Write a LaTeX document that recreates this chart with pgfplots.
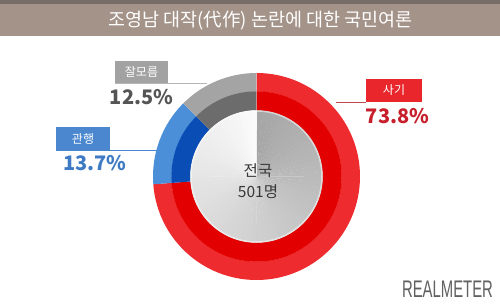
\documentclass[border=0pt]{standalone}
\usepackage{fontspec}
\setmainfont{Noto Sans CJK KR}
\newfontfamily\logofont{Liberation Sans}
\usepackage{pgfplots}
\usepackage{pgfplotstable}
\pgfplotsset{compat=1.18}

\definecolor{titlebar}{HTML}{A49389}
\definecolor{titletop}{HTML}{776C67}
\definecolor{redO}{HTML}{EE2B2E}
\definecolor{redI}{HTML}{E30000}
\definecolor{blueO}{HTML}{4A8FD8}
\definecolor{blueI}{HTML}{0A4DB4}
\definecolor{grayO}{HTML}{A4A4A4}
\definecolor{grayI}{HTML}{6C6C6C}
\definecolor{redtxt}{HTML}{C71F2B}
\definecolor{bluetxt}{HTML}{3F7BC4}
\definecolor{graytxt}{HTML}{555555}
\definecolor{redbox}{HTML}{E8262C}
\definecolor{bluebox}{HTML}{4A87CF}
\definecolor{graybox}{HTML}{A2A2A2}

\pgfplotstableread{
name value
fraud 73.8
custom 13.7
unknown 12.5
}\poll

\newcommand\seg[5]{%
  \fill[#1] ([shift={(#2:#4pt)}]axis cs:256.5,129.5)
    arc[start angle=#2,end angle=#3,radius=#4pt]
    -- ([shift={(#3:#5pt)}]axis cs:256.5,129.5)
    arc[start angle=#3,end angle=#2,radius=#5pt] -- cycle;}

\begin{document}%
\begin{tikzpicture}
\pgfplotstablegetelem{0}{value}\of\poll \let\va\pgfplotsretval
\pgfplotstablegetelem{1}{value}\of\poll \let\vb\pgfplotsretval
\pgfplotstablegetelem{2}{value}\of\poll \let\vc\pgfplotsretval
\pgfmathsetmacro\tot{\va+\vb+\vc}
\pgfmathsetmacro\aA{90}
\pgfmathsetmacro\aB{90-\va/\tot*360}
\pgfmathsetmacro\aC{\aB-\vb/\tot*360}
\pgfmathsetmacro\aD{\aC-\vc/\tot*360}
\begin{axis}[x=1pt,y=1pt,xmin=0,xmax=500,ymin=0,ymax=306,hide axis,clip=false]
  % background
  \fill[white] (axis cs:0,0) rectangle (axis cs:500,306);
  \coordinate (O) at (axis cs:0,0);
  \fill[titlebar] (axis cs:0,270) rectangle (axis cs:500,302);
  \fill[titletop] (axis cs:0,302) rectangle (axis cs:500,306);
  \node[text=white,font=\fontsize{18.5}{20}\selectfont] at (axis cs:260.5,285.5) {조영남 대작(代作) 논란에 대한 국민여론};
  % donut from data
  \seg{redO}{\aA}{\aB}{103.5}{85}
  \seg{blueO}{\aB}{\aC}{103.5}{85}
  \seg{grayO}{\aC}{\aD}{103.5}{85}
  \seg{redI}{\aA}{\aB}{85.2}{66}
  \seg{blueI}{\aB}{\aC}{85.2}{66}
  \seg{grayI}{\aC}{\aD}{85.2}{66}
  % label: unknown
  \draw[graybox!80!white,line width=0.8pt] (axis cs:115,223) -- (axis cs:207,223);
  \fill[graybox] (axis cs:115,223) rectangle (axis cs:168,245);
  \node[text=white,font=\fontsize{12}{13}\selectfont] at (axis cs:141.5,234) {잘모름};
  \node[text=graytxt,font=\bfseries\fontsize{20}{24}\selectfont] at (axis cs:141.5,208.5) {12.5\%};
  % label: custom
  \draw[bluebox,line width=0.8pt] (axis cs:56,156) -- (axis cs:157,156);
  \fill[bluebox] (axis cs:56,156) rectangle (axis cs:110,179);
  \node[text=white,font=\fontsize{12}{13}\selectfont] at (axis cs:83,167.5) {관행};
  \node[text=bluetxt,font=\bfseries\fontsize{20}{24}\selectfont] at (axis cs:95,142.5) {13.7\%};
  % label: fraud
  \draw[redbox!60!gray,line width=0.8pt] (axis cs:336,204) -- (axis cs:366,204);
  \fill[redbox] (axis cs:366,204) rectangle (axis cs:422,227);
  \node[text=white,font=\fontsize{12}{13}\selectfont] at (axis cs:394,215.5) {사기};
  \node[text=redtxt,font=\bfseries\fontsize{20}{24}\selectfont] at (axis cs:397.5,190) {73.8\%};
  % logo
  \node[text=black!62,font=\logofont\fontsize{24}{26}\selectfont,xscale=0.62] at (axis cs:447.5,17) {REALMETER};
\end{axis}
\begin{scope}[shift={(O)},x=1pt,y=1pt]
  \foreach \k in {0,...,71} {
    \pgfmathsetmacro\bl{35-33*\k/71}
    \pgfmathsetmacro\st{90-5*\k}
    \pgfmathsetmacro\en{90-5*\k-5.3}
    \fill[black!\bl!white] (256.5,129.5) -- ++(\st:66.2pt) arc[start angle=\st,end angle=\en,radius=66.2pt] -- cycle;
  }
  \draw[white,opacity=0.5,line width=1.5pt] (256.5,129.5) circle[radius=65.5pt];
  \node[text=black!78,font=\fontsize{15.5}{18}\selectfont] at (258,135) {전국};
  \node[text=black!78,font=\fontsize{15.5}{18}\selectfont] at (258,114) {501명};
  \pgfresetboundingbox
  \path[use as bounding box] (0,0) rectangle (500,306);
\end{scope}
\end{tikzpicture}%
\end{document}
